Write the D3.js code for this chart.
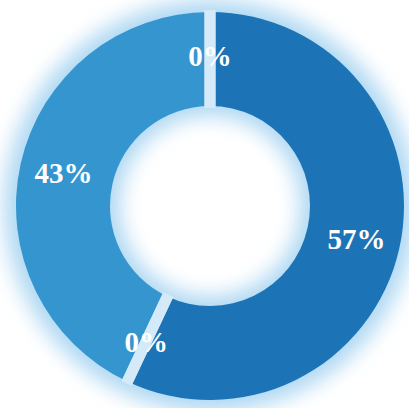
<!DOCTYPE html>
<html><head><meta charset="utf-8">
<script src="https://cdn.jsdelivr.net/npm/d3@7"></script>
<style>html,body{margin:0;padding:0;background:#fff;}svg{display:block;}</style>
</head><body>
<svg id="chart" width="409" height="408"></svg>
<script>
const categories = ["A", "B", "C", "D"];
const values = [57, 0, 43, 0];
const labels = ["57%", "0%", "43%", "0%"];
const colors = ["#1c74b6", "#1c74b6", "#3596cf", "#3596cf"];

const W = 409, H = 408, cx = 210, cy = 206;
const rOuter = 194, rInner = 100, rLabel = 150;

const svg = d3.select("#chart");
const defs = svg.append("defs");
const f = defs.append("filter").attr("id", "glow")
  .attr("x", "-30%").attr("y", "-30%").attr("width", "160%").attr("height", "160%");
f.append("feGaussianBlur").attr("stdDeviation", 10);

const pie = d3.pie().sort(null).value(d => d)(values);
const arc = d3.arc().innerRadius(rInner).outerRadius(rOuter);
const labelArc = d3.arc().innerRadius(rLabel).outerRadius(rLabel);

const g = svg.append("g").attr("transform", `translate(${cx},${cy})`);

// glow
g.append("path")
  .attr("d", d3.arc().innerRadius(rInner - 10).outerRadius(rOuter + 12)({startAngle: 0, endAngle: 2 * Math.PI}))
  .attr("fill", "#9ccff0").attr("opacity", 0.8).attr("filter", "url(#glow)");

g.selectAll("path.slice").data(pie).join("path")
  .attr("class", "slice")
  .attr("d", arc)
  .attr("fill", (d, i) => colors[i]);

// separators at each slice boundary
const sepLine = d3.lineRadial();
g.selectAll("path.sep").data(pie).join("path")
  .attr("class", "sep")
  .attr("d", d => sepLine([[d.startAngle, rInner - 2], [d.startAngle, rOuter + 2]]))
  .attr("stroke", "#d4eaf8")
  .attr("stroke-width", 11)
  .attr("fill", "none");

g.selectAll("text.lbl").data(pie).join("text")
  .attr("class", "lbl")
  .attr("transform", d => `translate(${labelArc.centroid(d)})`)
  .attr("text-anchor", "middle")
  .attr("dy", "0.35em")
  .attr("fill", "#ffffff")
  .attr("font-family", "'Liberation Serif', 'Times New Roman', serif")
  .attr("font-weight", "bold")
  .attr("font-size", 29)
  .text((d, i) => labels[i]);
</script>
</body></html>
